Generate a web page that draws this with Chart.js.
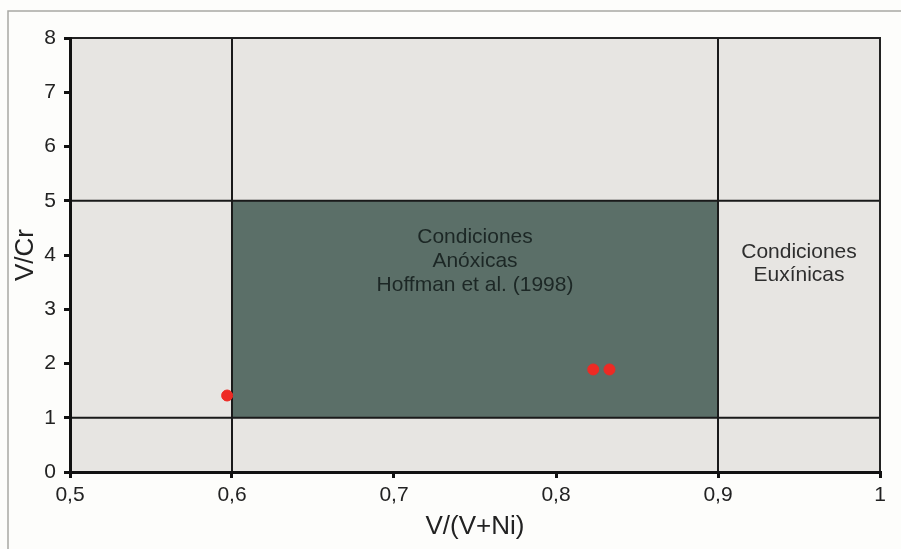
<!DOCTYPE html>
<html>
<head>
<meta charset="utf-8">
<script src="https://cdn.jsdelivr.net/npm/chart.js@4"></script>
<style>
  html, body { margin: 0; padding: 0; background: #fdfdfb; }
  #wrap { width: 901px; height: 549px; position: relative; }
</style>
</head>
<body>
<div id="wrap"><canvas id="myChart" width="901" height="549"></canvas></div>
<script>
// data
const muestrasX = [0.597, 0.823, 0.833];
const muestrasY = [1.41, 1.89, 1.89];
const limitesX = [0.6, 0.9];
const limitesY = [1, 5];
const ticksX = [0.5, 0.6, 0.7, 0.8, 0.9, 1];
const ticksY = [0, 1, 2, 3, 4, 5, 6, 7, 8];
const textoAnoxico = ["Condiciones", "Anóxicas", "Hoffman et al. (1998)"];
const textoEuxinico = ["Condiciones", "Euxínicas"];

const puntos = [];
for (let i = 0; i < muestrasX.length; i++) {
  puntos.push({ x: muestrasX[i], y: muestrasY[i] });
}

const fuente = "'Liberation Sans', Arial, sans-serif";

// plugin voor achtergrond, zones, lijnen en teksten
const zonas = {
  id: "zonas",
  beforeDraw(chart) {
    const ctx = chart.ctx;
    const a = chart.chartArea;
    const sx = chart.scales.x, sy = chart.scales.y;
    ctx.save();
    ctx.fillStyle = "#fdfdfb";
    ctx.fillRect(0, 0, chart.width, chart.height);
    // buitenkader
    ctx.strokeStyle = "#a8a8a4";
    ctx.lineWidth = 1.5;
    ctx.beginPath();
    ctx.moveTo(8, chart.height);
    ctx.lineTo(8, 11);
    ctx.lineTo(chart.width, 11);
    ctx.stroke();
    // grijze achtergrond
    ctx.fillStyle = "#e7e5e2";
    ctx.fillRect(a.left, a.top, a.width, a.height);
    // anoxische zone
    const x0 = sx.getPixelForValue(limitesX[0]);
    const x1 = sx.getPixelForValue(limitesX[1]);
    const y0 = sy.getPixelForValue(limitesY[1]);
    const y1 = sy.getPixelForValue(limitesY[0]);
    ctx.fillStyle = "#5b6f68";
    ctx.fillRect(x0, y0, x1 - x0, y1 - y0);
    // lijnen
    ctx.strokeStyle = "#1a1a1a";
    ctx.lineWidth = 2;
    ctx.beginPath();
    limitesX.forEach(v => {
      const p = sx.getPixelForValue(v);
      ctx.moveTo(p, a.top);
      ctx.lineTo(p, a.bottom);
    });
    limitesY.forEach(v => {
      const p = sy.getPixelForValue(v);
      ctx.moveTo(a.left, p);
      ctx.lineTo(a.right, p);
    });
    ctx.stroke();
    // kader boven en rechts
    ctx.strokeStyle = "#222";
    ctx.lineWidth = 2;
    ctx.beginPath();
    ctx.moveTo(a.left, a.top);
    ctx.lineTo(a.right, a.top);
    ctx.lineTo(a.right, a.bottom);
    ctx.stroke();
    // teksten
    ctx.font = "21px " + fuente;
    ctx.textAlign = "center";
    ctx.textBaseline = "middle";
    ctx.fillStyle = "#1c2725";
    const cx = sx.getPixelForValue((limitesX[0] + limitesX[1]) / 2);
    let ty = sy.getPixelForValue(4.33);
    textoAnoxico.forEach((t, i) => ctx.fillText(t, cx, ty + i * 24));
    ctx.fillStyle = "#2e2e2e";
    const ex = sx.getPixelForValue(0.95);
    ty = sy.getPixelForValue(4.05);
    textoEuxinico.forEach((t, i) => ctx.fillText(t, ex, ty + i * 23));
    ctx.restore();
  }
};

new Chart(document.getElementById("myChart"), {
  type: "scatter",
  data: {
    datasets: [{
      data: puntos,
      backgroundColor: "#ee2a24",
      borderColor: "#ee2a24",
      pointRadius: 5.5,
      pointHoverRadius: 5.5
    }]
  },
  options: {
    responsive: false,
    animation: false,
    layout: { padding: { left: 10, top: 38, right: 21, bottom: 3 } },
    plugins: { legend: { display: false }, tooltip: { enabled: false } },
    scales: {
      x: {
        type: "linear",
        min: 0.5,
        max: 1,
        afterBuildTicks(scale) { scale.ticks = ticksX.map(v => ({ value: v })); },
        afterFit(scale) { scale.height = 74; },
        border: { display: true, color: "#111", width: 3 },
        grid: { drawOnChartArea: false, drawTicks: true, tickLength: 6, color: "#111", lineWidth: 3 },
        ticks: {
          color: "#222",
          padding: 5,
          font: { family: fuente, size: 21 },
          callback: v => String(v).replace(".", ",")
        },
        title: { display: true, text: "V/(V+Ni)", color: "#222", font: { family: fuente, size: 26 }, padding: { top: 2 } }
      },
      y: {
        type: "linear",
        min: 0,
        max: 8,
        afterBuildTicks(scale) { scale.ticks = ticksY.map(v => ({ value: v })); },
        afterFit(scale) { scale.width = 60; },
        border: { display: true, color: "#111", width: 3 },
        grid: { drawOnChartArea: false, drawTicks: true, tickLength: 6, color: "#111", lineWidth: 3 },
        ticks: {
          color: "#222",
          padding: 8,
          font: { family: fuente, size: 21 }
        },
        title: { display: true, text: "V/Cr", color: "#222", font: { family: fuente, size: 26 }, padding: 0 }
      }
    }
  },
  plugins: [zonas]
});
</script>
</body>
</html>
